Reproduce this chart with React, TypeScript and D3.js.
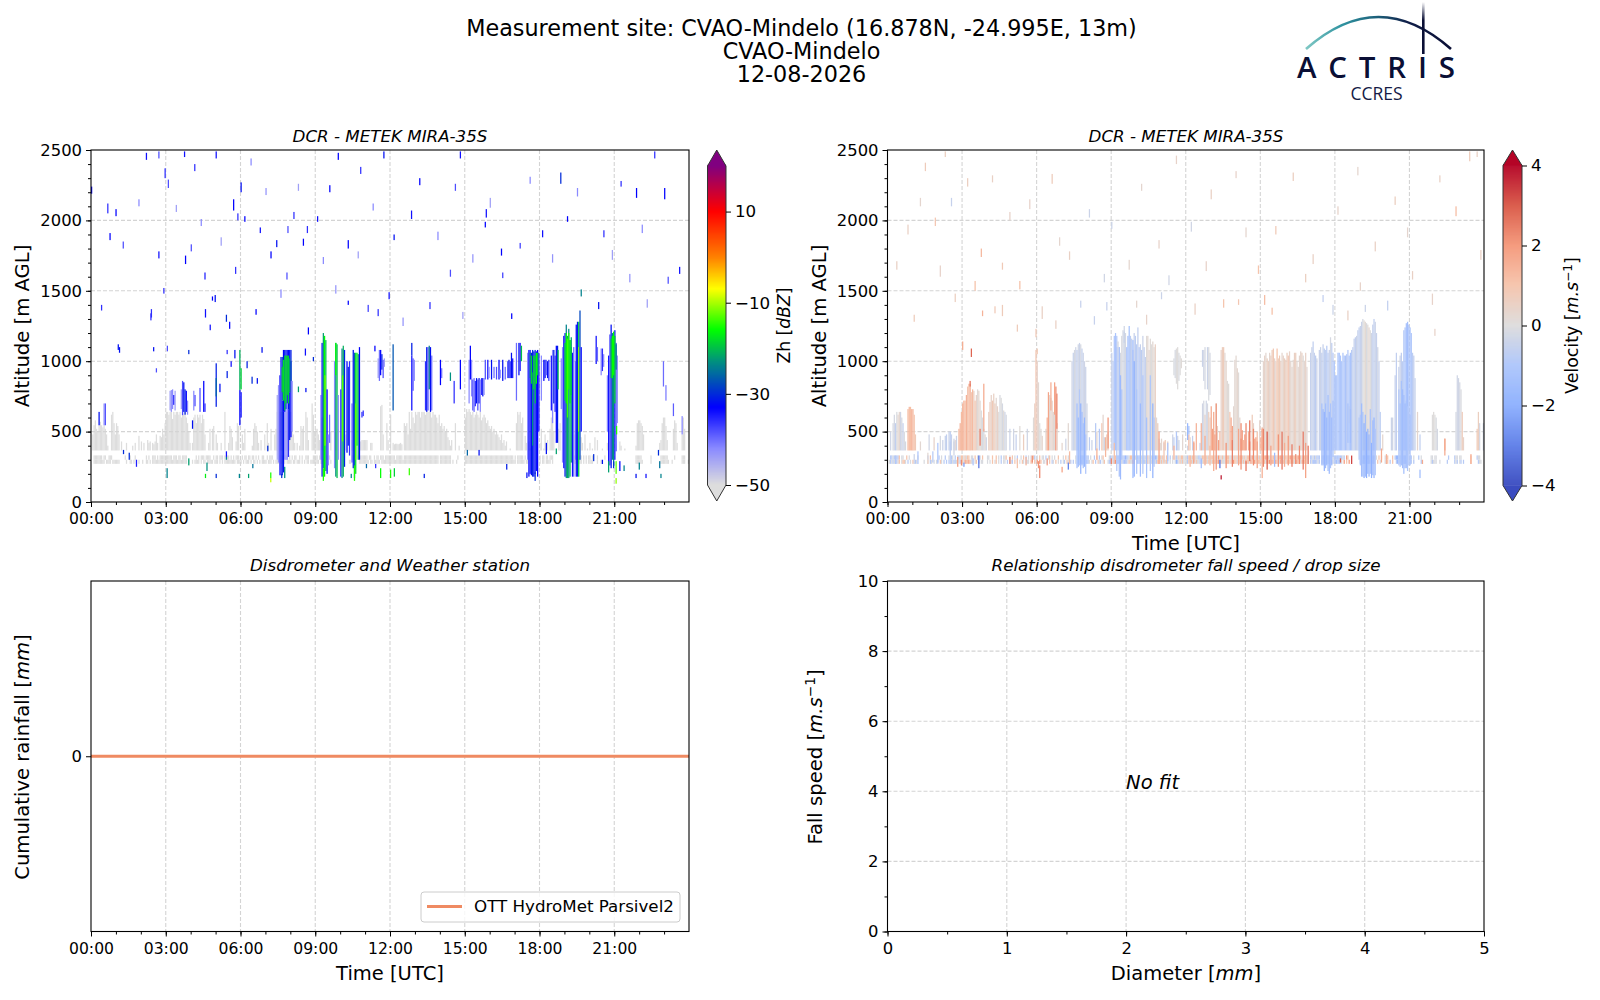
import { useEffect, useRef } from 'react';
import * as d3 from 'd3';

const TITLE_LINES = ['Measurement site: CVAO-Mindelo (16.878N, -24.995E, 13m)', 'CVAO-Mindelo', '12-08-2026'];
const HOUR_TICKS = [0, 3, 6, 9, 12, 15, 18, 21];
const HOUR_MINOR = d3.range(0, 24);
const ALT_TICKS = [0, 500, 1000, 1500, 2000, 2500];
const ALT_MINOR = d3.range(0, 2600, 100);
const ZH_TICKS = [-50, -30, -10, 10];
const VEL_TICKS = [-4, -2, 0, 2, 4];
const DIAM_TICKS = [0, 1, 2, 3, 4, 5];
const DIAM_MINOR = d3.range(0, 5.5, 0.5);
const FALL_TICKS = [0, 2, 4, 6, 8, 10];
const FALL_MINOR = d3.range(0, 11, 1);

const ZH_STOPS = [-50, -42, -33, -23, -16, -7, 0, 10, 15, 20];
const ZH_COLORS = ['#dddddd', '#8a8aff', '#0000ff', '#009080', '#00ff00', '#ffff00', '#ff8000', '#ff0000', '#c00040', '#800080'];
const VEL_STOPS = [-4, -3, -2, -1, 0, 1, 2, 3, 4];
const VEL_COLORS = ['#3b4cc0', '#5f7fe8', '#8db0fe', '#aec6fb', '#dddcdc', '#f5c4ac', '#f4987a', '#d95847', '#b40426'];

// Rain gauge: nothing fell, cumulative stays at zero
const RAIN_HOURS = [0, 6, 12, 18, 24];
const RAIN_VALUES = [0, 0, 0, 0, 0];

// top of the weak echo layer in each 3-minute column (m), one row per hour, 0 = no echo
const ZH_GRAY_TOP: number[][] = [
  [0, 480, 545, 580, 520, 500, 545, 570, 545, 530, 545, 520, 480, 400, 0, 0, 620, 640, 560, 480],
  [560, 540, 480, 0, 430, 0, 0, 0, 420, 0, 0, 0, 0, 400, 0, 420, 0, 0, 470, 0],
  [430, 0, 420, 0, 0, 440, 420, 430, 0, 420, 410, 430, 480, 420, 0, 470, 460, 520, 480, 560],
  [640, 640, 620, 640, 640, 590, 640, 620, 640, 640, 620, 640, 600, 640, 620, 640, 600, 560, 500, 420],
  [0, 420, 600, 620, 560, 620, 600, 620, 560, 620, 590, 480, 0, 0, 420, 520, 0, 520, 540, 0],
  [480, 420, 0, 0, 420, 0, 0, 640, 0, 0, 420, 540, 520, 460, 0, 0, 430, 560, 540, 0],
  [0, 480, 420, 520, 0, 0, 0, 0, 0, 400, 520, 560, 540, 500, 420, 0, 440, 0, 0, 480],
  [0, 560, 420, 0, 520, 0, 0, 480, 520, 640, 640, 640, 640, 640, 640, 640, 640, 640, 640, 640],
  [640, 500, 480, 420, 0, 420, 0, 400, 540, 520, 540, 0, 640, 600, 440, 0, 0, 700, 620, 500],
  [520, 520, 480, 440, 0, 600, 0, 0, 0, 0, 0, 0, 500, 0, 0, 0, 500, 0, 520, 0],
  [0, 0, 0, 0, 480, 0, 0, 0, 0, 440, 0, 0, 0, 0, 0, 0, 430, 440, 440, 440],
  [440, 440, 0, 0, 420, 420, 0, 0, 0, 0, 0, 0, 680, 690, 480, 0, 0, 560, 440, 0],
  [620, 0, 420, 410, 414, 414, 410, 414, 420, 410, 0, 560, 540, 560, 480, 640, 520, 640, 600, 560],
  [640, 620, 640, 640, 600, 640, 640, 640, 620, 640, 640, 640, 640, 600, 640, 620, 620, 600, 560, 620],
  [540, 560, 520, 540, 500, 520, 460, 440, 400, 440, 0, 0, 560, 0, 0, 400, 0, 0, 0, 0],
  [600, 660, 640, 660, 640, 620, 640, 600, 620, 640, 620, 600, 640, 580, 600, 620, 600, 560, 580, 540],
  [520, 540, 500, 520, 480, 500, 480, 460, 440, 480, 420, 440, 400, 430, 0, 0, 380, 0, 0, 0],
  [0, 560, 640, 620, 640, 560, 600, 0, 470, 420, 0, 430, 380, 0, 0, 0, 0, 0, 0, 0],
  [420, 520, 0, 380, 480, 0, 440, 0, 520, 600, 640, 500, 0, 0, 0, 520, 560, 0, 0, 0],
  [0, 0, 0, 0, 0, 0, 0, 0, 480, 520, 440, 0, 0, 460, 420, 0, 480, 0, 380, 0],
  [420, 0, 380, 0, 460, 0, 440, 0, 0, 0, 380, 0, 0, 0, 420, 520, 0, 0, 0, 0],
  [0, 0, 0, 0, 430, 400, 0, 0, 380, 0, 0, 0, 0, 0, 0, 0, 0, 400, 560, 580],
  [580, 560, 540, 480, 360, 0, 0, 0, 0, 0, 0, 0, 0, 0, 0, 0, 420, 440, 560, 600],
  [600, 540, 440, 0, 0, 0, 0, 520, 580, 560, 420, 0, 0, 0, 480, 600, 520, 0, 0, 0],
];

// the two lowest gates (300-331 m and 271-300 m), one string per hour, # = echo
const ZH_BAND_UPPER = [
  '..#######.##..###...', '.......#...#...#....', '....#.#..###.#.#####', '#####.###.##.####...', '....#.#.###.####..#.', '##.###.#.##.#.#.###.',
  '.#.##.##.##.#.#..##.', '.#.###.....#.#.###.#', '.#.##..#.#..###...##', '##.#.....#.#........', '.........##...#.####', '##.##..#.##.###.####',
  '####.#####.#########', '###################.', '#########.....#.....', '####################', '###################.', '#.#####.#...........',
  '#.##.##.###.........', '......#.###.##.#.#.#', '#.#...#.....#.......', '.................###', '##.......#.......###', '###.....#.....###...',
];
const ZH_BAND_LOWER = [
  '..#########.####.###', '###.....#..##.#.#.#.', '.#..##.#.###########', '#################.#.', '.#.####.#.##.#####.#', '##.#.#.#########.###',
  '#.#.###.#.##.#.#.###', '#.###.#.###.##.#.###', '#.##.###.#.#.##.####', '###.###.....#.......', '.......##..#...#####', '###.##.#####.#######',
  '####################', '###################.', '#########.#..#......', '####################', '####################', '#.######.##.........',
  '#.##.####.#.........', '......#####.##.#.#.#', '###...#..#.......#..', '.................###', '###......#.......###', '####..#.......###..#',
];

// shafts and cloud columns, [hour, altBottom, altTop, dBZ]
const ZH_SHAFTS: number[][] = [
  [0.3, 545, 640, -32], [0.5, 545, 700, -43], [0.55, 545, 700, -38], [3.15, 650, 790, -44], [3.2, 640, 795, -43], [3.25, 660, 800, -42], [3.3, 690, 760, -34], [3.35, 650, 790, -44],
  [3.6, 660, 800, -44], [3.65, 617, 860, -38], [3.7, 640, 850, -32], [3.75, 620, 800, -31], [3.8, 640, 790, -33], [3.85, 620, 720, -42], [4.05, 520, 580, -32], [4.1, 650, 790, -42],
  [4.15, 680, 760, -38], [4.35, 640, 810, -38], [4.5, 640, 860, -33], [4.55, 640, 700, -36], [5.0, 676, 985, -31], [5.0, 750, 880, -26], [5.15, 780, 840, -32], [5.75, 1020, 1080, -32],
  [5.95, 545, 795, -33], [6.0, 600, 780, -34], [5.95, 795, 1080, -21], [6.0, 800, 950, -19],
  [7.45, 300, 760, -45], [7.5, 280, 830, -43], [7.55, 190, 900, -38], [7.6, 190, 1030, -34], [7.65, 190, 720, -31], [7.7, 210, 640, -32], [7.75, 300, 640, -42], [7.8, 300, 660, -43],
  [7.85, 300, 700, -42], [7.9, 320, 660, -36], [7.95, 440, 780, -31], [8.0, 460, 860, -33], [8.05, 500, 860, -43],
  [7.65, 720, 1030, -28], [7.7, 640, 1080, -33], [7.75, 640, 1080, -32], [7.8, 660, 1080, -31], [7.85, 700, 1080, -33], [7.9, 660, 1080, -32], [7.95, 780, 1080, -33], [8.0, 860, 1080, -31],
  [7.65, 780, 960, -19], [7.7, 720, 1010, -18], [7.75, 650, 1040, -20], [7.8, 700, 1040, -17], [7.85, 760, 1040, -18], [7.9, 700, 1040, -19], [7.95, 780, 1020, -22], [8.0, 860, 1000, -28],
  [9.2, 300, 760, -42], [9.25, 180, 1130, -33], [9.3, 240, 1200, -22], [9.35, 180, 1180, -16], [9.4, 220, 1150, -20], [9.45, 200, 800, -33], [9.3, 150, 240, -15], [9.37, 400, 900, -12], [9.5, 260, 480, -42],
  [9.55, 420, 620, -40], [9.75, 240, 1000, -42], [9.8, 180, 1130, -23], [9.85, 170, 1120, -20], [9.8, 900, 1130, -16], [9.9, 300, 760, -42], [10.0, 180, 800, -36], [10.05, 170, 1090, -24], [10.1, 180, 1110, -21],
  [10.15, 250, 1080, -31], [10.07, 430, 900, -13], [10.25, 350, 1000, -33], [10.3, 400, 960, -31], [10.35, 330, 1000, -36], [10.45, 280, 700, -40], [10.5, 240, 1080, -32], [10.55, 170, 1060, -26], [10.6, 200, 1060, -18], [10.65, 400, 1060, -17], [10.7, 300, 1050, -22], [10.75, 300, 1100, -33],
  [10.6, 300, 700, -13], [10.55, 150, 260, -15], [10.85, 600, 640, -36], [11.5, 880, 1020, -44], [11.55, 860, 1080, -40], [11.6, 900, 1080, -33], [11.65, 940, 1050, -31], [11.7, 880, 1010, -38], [11.75, 960, 1020, -44],
  [12.1, 650, 1120, -27], [12.85, 650, 1040, -34], [12.85, 1040, 1130, -31], [12.9, 790, 1020, -38], [12.95, 860, 1010, -42], [13.4, 650, 1000, -36], [13.45, 640, 1100, -32], [13.5, 650, 1100, -38], [13.55, 800, 1110, -24], [13.6, 640, 1100, -32], [13.65, 650, 1040, -40],
  [14.0, 830, 1010, -33], [14.05, 880, 950, -40], [14.4, 860, 920, -23], [14.55, 700, 860, -36], [14.8, 800, 1010, -33],
  [15.15, 700, 1010, -42], [15.2, 870, 1110, -33], [15.25, 750, 1010, -42], [15.3, 650, 870, -38], [15.35, 640, 880, -40], [15.4, 680, 860, -36], [15.45, 700, 880, -32], [15.5, 650, 870, -38], [15.55, 700, 880, -32], [15.6, 640, 870, -42], [15.65, 760, 880, -36], [15.7, 750, 880, -32], [15.75, 760, 880, -42],
  [15.8, 870, 1010, -38], [15.9, 870, 1010, -34], [15.95, 880, 960, -42], [16.05, 870, 1010, -32], [16.15, 880, 960, -40], [16.25, 870, 960, -38], [16.35, 870, 1010, -33], [16.4, 880, 940, -42], [16.5, 860, 1010, -32], [16.6, 870, 960, -40], [16.7, 880, 1000, -38], [16.75, 880, 1010, -32], [16.8, 880, 1000, -36], [16.85, 880, 1060, -32], [16.9, 880, 1020, -34],
  [17.05, 720, 1130, -40], [17.15, 900, 1130, -32], [17.2, 930, 1130, -35], [17.25, 1000, 1110, -20],
  [17.5, 300, 1060, -42], [17.55, 180, 1080, -33], [17.6, 200, 1080, -34], [17.65, 190, 1060, -32], [17.7, 180, 1080, -30], [17.75, 180, 1070, -33], [17.8, 200, 1080, -31], [17.85, 220, 1070, -34], [17.9, 180, 1080, -33], [17.95, 500, 1060, -34],
  [17.6, 880, 1060, -24], [17.65, 840, 1040, -19], [17.7, 400, 920, -23], [17.75, 800, 1040, -17], [17.8, 700, 1040, -20], [17.85, 840, 1060, -16], [17.9, 900, 1060, -20],
  [18.05, 720, 1040, -42], [18.15, 860, 1010, -33], [18.2, 880, 1010, -32], [18.25, 900, 1010, -40], [18.3, 880, 1000, -32], [18.35, 860, 1010, -36],
  [18.45, 650, 1040, -34], [18.5, 560, 1080, -42], [18.55, 700, 1080, -31], [18.6, 640, 1040, -36], [18.65, 420, 1110, -33], [18.7, 420, 1110, -31], [18.72, 800, 1080, -20], [18.85, 660, 1020, -42],
  [18.9, 280, 1100, -42], [18.95, 240, 1180, -34], [19.0, 180, 1200, -32], [19.05, 170, 1260, -24], [19.1, 170, 1180, -21], [19.15, 170, 1230, -23], [19.2, 180, 1150, -20], [19.25, 280, 1170, -22], [19.3, 180, 1060, -34], [19.35, 180, 1100, -40],
  [19.0, 720, 1130, -18], [19.05, 700, 1200, -16], [19.1, 600, 1160, -14], [19.15, 800, 1200, -15], [19.2, 700, 1150, -17], [19.25, 760, 1100, -20],
  [19.42, 300, 1000, -43], [19.45, 180, 1260, -33], [19.5, 180, 1280, -31], [19.55, 180, 1280, -19], [19.55, 500, 1100, -11], [19.6, 300, 1360, -28], [19.65, 500, 1100, -34],
  [20.25, 980, 1180, -34], [20.3, 1000, 1100, -40], [20.45, 900, 1090, -42], [20.5, 930, 1090, -36], [20.55, 960, 1050, -42], [20.7, 500, 900, -42],
  [20.75, 260, 1040, -34], [20.8, 260, 1190, -38], [20.85, 240, 1260, -32], [20.9, 300, 1200, -24], [20.95, 260, 1180, -23], [21.0, 300, 1220, -34], [21.05, 360, 1130, -38], [21.1, 560, 1040, -43],
  [20.85, 880, 1160, -20], [20.9, 880, 1180, -16], [20.95, 900, 1210, -16], [21.0, 700, 1180, -18], [21.05, 940, 1120, -24], [22.95, 820, 1000, -40], [23.05, 720, 830, -41], [23.35, 610, 700, -39], [23.7, 480, 610, -42],
];

// isolated returns, [hour, altBottom, altTop, dBZ]
const ZH_SPECKS: number[][] = [
  [1.12, 1060, 1100, -32], [2.49, 1070, 1100, -32], [2.4, 1310, 1370, -36], [0.4, 1360, 1400, -36], [4.57, 1310, 1370, -34], [5.41, 1280, 1330, -30],
  [4.85, 1430, 1460, -33], [3.9, 1050, 1080, -30], [3.04, 1070, 1110, -38], [5.44, 1050, 1080, -36], [6.84, 1060, 1100, -32],
  [6.24, 950, 1000, -31], [5.6, 960, 1000, -34], [2.6, 920, 950, -38], [5.44, 880, 930, -31], [6.44, 840, 890, -30], [6.65, 840, 880, -32],
  [8.3, 780, 820, -22], [8.6, 780, 810, -32], [8.7, 1190, 1240, -33], [8.58, 1040, 1090, -34], [8.9, 1000, 1030, -30], [11.5, 1320, 1370, -36],
  [10.3, 1400, 1430, -33], [11.37, 1070, 1110, -33], [10.9, 610, 650, -36], [1.28, 340, 370, -30], [1.51, 300, 350, -30], [1.8, 250, 300, -35],
  [3.03, 170, 240, -24], [3.9, 260, 310, -22], [4.63, 220, 280, -23], [4.57, 170, 200, -17], [5.0, 170, 200, -30], [5.41, 320, 360, -34],
  [5.41, 300, 320, -24], [5.93, 170, 200, -24], [6.3, 170, 200, -22], [7.19, 140, 170, -9], [7.19, 170, 210, -15], [7.07, 360, 400, -30],
  [6.47, 240, 270, -25], [7.75, 170, 250, -23], [7.63, 170, 200, -30], [11.03, 240, 270, -26], [10.42, 170, 200, -24], [11.6, 170, 240, -16],
  [11.4, 240, 270, -36], [12.0, 170, 230, -15], [12.15, 180, 240, -19], [12.75, 190, 240, -14], [13.35, 170, 200, -31], [15.08, 330, 370, -26],
  [15.55, 330, 370, -32], [16.66, 230, 270, -31], [17.47, 170, 210, -32], [17.8, 150, 210, -30], [18.25, 340, 420, -32], [18.65, 340, 380, -22],
  [20.15, 290, 340, -30], [20.5, 270, 300, -32], [20.75, 210, 290, -22], [20.95, 240, 290, -29], [21.05, 200, 290, -13], [21.2, 220, 290, -33],
  [21.37, 220, 260, -24], [21.05, 130, 170, -11], [21.07, 480, 540, -15], [21.85, 170, 200, -32], [22.25, 170, 200, -34], [22.85, 170, 200, -24],
  [21.98, 230, 280, -24], [22.8, 240, 290, -25], [22.75, 330, 370, -30], [2.2, 2430, 2480, -34], [2.7, 2440, 2490, -38], [2.95, 2300, 2370, -36],
  [3.08, 2230, 2290, -38], [3.73, 2450, 2490, -34], [0, 2190, 2240, -33], [0.65, 2050, 2120, -36], [0.98, 2030, 2080, -33], [1.27, 1800, 1850, -38],
  [0.74, 1860, 1910, -33], [4.14, 2350, 2400, -36], [5.0, 2440, 2490, -34], [5.7, 2070, 2150, -33], [6.0, 2200, 2270, -32], [5.87, 2000, 2050, -36],
  [6.15, 1990, 2030, -33], [7.43, 1810, 1860, -32], [6.77, 1910, 1950, -34], [7.88, 1910, 1960, -38], [8.12, 2010, 2060, -36], [8.5, 1820, 1870, -33],
  [8.66, 1910, 1960, -36], [3.77, 1690, 1750, -33], [2.7, 1730, 1780, -34], [4.0, 1780, 1830, -38], [2.38, 1290, 1340, -36], [4.96, 1420, 1470, -32],
  [4.55, 1580, 1630, -35], [5.54, 1230, 1280, -33], [4.76, 1220, 1260, -34], [1.07, 1080, 1120, -32], [9.9, 2430, 2480, -33], [9.56, 2200, 2250, -33],
  [10.8, 2330, 2380, -36], [11.73, 2440, 2490, -32], [12.84, 2010, 2070, -34], [13.17, 2250, 2300, -33], [14.8, 2440, 2490, -34], [14.6, 2210, 2260, -38],
  [15.84, 2020, 2080, -34], [15.8, 1950, 1990, -33], [16.45, 1750, 1800, -33], [17.2, 1800, 1840, -37], [18.83, 2260, 2340, -30], [21.25, 2240, 2280, -36],
  [21.87, 2160, 2230, -33], [22.6, 2440, 2490, -36], [23.0, 2150, 2230, -33], [23.6, 1620, 1670, -34], [23.14, 1550, 1600, -38], [20.56, 1880, 1930, -36],
  [19.1, 1990, 2030, -33], [18.1, 1880, 1930, -34], [20.35, 1370, 1420, -32], [19.65, 1460, 1510, -24], [14.4, 1600, 1650, -38], [12.14, 1860, 1900, -32],
  [10.3, 1800, 1860, -33], [9.07, 1990, 2030, -34], [7.2, 1730, 1780, -33], [2.9, 1480, 1520, -36], [16.5, 1590, 1630, -37], [16.86, 1300, 1340, -33],
  [13.58, 1370, 1420, -36], [11.94, 1440, 1490, -34], [11.1, 1350, 1400, -37], [6.6, 1330, 1370, -33], [7.84, 1580, 1630, -38], [5.78, 1620, 1670, -36],
  [1.9, 2100, 2150, -42], [3.4, 2060, 2110, -44], [4.4, 1960, 2010, -42], [5.2, 1820, 1880, -44], [6.4, 2390, 2440, -42], [7.0, 2180, 2230, -43], [7.6, 1450, 1510, -42], [8.3, 2210, 2260, -44],
  [9.3, 1690, 1740, -42], [9.8, 1480, 1540, -43], [10.7, 1730, 1780, -44], [11.3, 2070, 2120, -42], [12.5, 1250, 1310, -43], [13.9, 1860, 1920, -42], [14.9, 1300, 1350, -44], [15.3, 1700, 1760, -43],
  [16.0, 2090, 2160, -44], [17.6, 2260, 2310, -42], [18.5, 1700, 1760, -43], [19.5, 2170, 2230, -42], [20.9, 1720, 1790, -44], [21.6, 1560, 1620, -43], [22.1, 1910, 1970, -42], [22.3, 1380, 1440, -44],
];

// velocity: top of each 3-minute column (m) and its value aloft (m/s), one row per hour
const VEL_TOP: number[][] = [
  [0, 0, 500, 0, 560, 620, 560, 640, 620, 640, 640, 600, 560, 500, 430, 0, 660, 676, 676, 660],
  [660, 620, 480, 0, 0, 0, 430, 0, 0, 0, 0, 0, 0, 480, 0, 0, 0, 460, 0, 0],
  [0, 0, 470, 0, 440, 0, 470, 480, 0, 500, 500, 480, 0, 430, 440, 470, 0, 520, 560, 640],
  [700, 720, 720, 760, 820, 840, 840, 780, 800, 790, 720, 760, 800, 790, 720, 650, 600, 520, 480, 460],
  [0, 640, 710, 760, 720, 770, 700, 740, 680, 640, 760, 740, 700, 650, 640, 620, 0, 0, 520, 0],
  [0, 520, 0, 480, 0, 0, 540, 0, 0, 480, 0, 0, 520, 0, 0, 0, 0, 600, 700, 1080],
  [1000, 850, 560, 520, 470, 0, 0, 520, 600, 780, 760, 740, 720, 640, 760, 820, 560, 0, 0, 0],
  [420, 0, 0, 450, 0, 560, 0, 0, 1000, 1060, 1080, 1100, 1080, 1120, 1130, 1120, 1090, 1060, 1000, 960],
  [700, 0, 460, 0, 440, 0, 0, 560, 500, 0, 520, 0, 560, 620, 460, 0, 480, 500, 0, 0],
  [1060, 1000, 1180, 1200, 1180, 1140, 1100, 1060, 1180, 1220, 1250, 1200, 1100, 1180, 1250, 1180, 1160, 1080, 1200, 1180],
  [1120, 1240, 1100, 1120, 1080, 1180, 1100, 1030, 1180, 1180, 1080, 1160, 1120, 1140, 1100, 1120, 600, 560, 450, 420],
  [450, 0, 420, 440, 0, 430, 0, 0, 0, 480, 460, 0, 500, 470, 440, 0, 0, 480, 0, 0],
  [0, 400, 480, 460, 0, 470, 420, 0, 560, 0, 0, 420, 560, 700, 720, 620, 720, 700, 640, 600],
  [680, 520, 500, 480, 700, 540, 440, 500, 1080, 1100, 1100, 1060, 1000, 860, 840, 640, 600, 540, 680, 1010],
  [1040, 950, 920, 600, 560, 510, 440, 480, 560, 0, 500, 430, 0, 620, 560, 450, 460, 500, 0, 580],
  [460, 520, 1000, 1040, 1060, 1020, 1000, 1060, 1040, 1080, 1090, 1020, 1000, 1090, 1020, 1040, 1000, 1060, 1040, 1020],
  [1010, 1060, 1040, 1070, 1000, 960, 1010, 1060, 1060, 1000, 960, 1040, 1070, 1060, 1040, 1000, 1060, 960, 0, 0],
  [1060, 1100, 1140, 1060, 1040, 1020, 0, 1080, 1100, 1060, 1120, 1090, 1080, 1110, 1060, 1080, 1170, 1130, 1060, 1000],
  [900, 900, 1060, 1060, 1040, 1000, 1060, 1040, 1040, 1050, 1080, 1040, 1060, 1080, 1100, 1160, 1170, 1180, 1220, 1240],
  [1250, 1280, 1300, 1290, 1280, 1270, 1260, 1240, 1220, 1200, 1260, 1300, 1280, 1200, 1100, 1000, 640, 0, 480, 0],
  [0, 0, 0, 0, 0, 600, 600, 0, 900, 1060, 0, 960, 1040, 1060, 1000, 1220, 1240, 1270, 1280, 1260],
  [1240, 1200, 1060, 1040, 880, 0, 640, 0, 480, 0, 0, 0, 0, 0, 0, 0, 360, 0, 620, 640],
  [620, 600, 520, 0, 0, 0, 0, 0, 450, 0, 0, 0, 0, 0, 0, 0, 0, 640, 900, 880],
  [850, 800, 640, 460, 0, 0, 0, 0, 0, 0, 0, 0, 0, 0, 520, 640, 560, 0, 0, 560],
];
const VEL_VALUE: number[][] = [
  [0, 0, -0.3, 0, -0.2, -0.2, -0.6, -0.1, 0.2, 0.3, -0.3, -0.2, -0.5, -0.1, -0.2, 0, 1.2, 1.3, 1.1, 1.4],
  [1.3, 1, 0.8, 0, 0, 0, 0.2, 0, 0, 0, 0, 0, 0, -0.3, 0, 0, 0, 0.4, 0, 0],
  [0, 0, -0.2, 0, -0.4, 0, -0.5, -0.6, 0, -0.4, -0.7, -0.5, 0, -0.3, 0.3, -0.4, 0, 1.3, 1.4, 1.2],
  [1.3, 1.5, 1, 1.4, 0.9, 1.1, 1.5, 0.8, 1.2, 0.6, 1, 0.4, 0.1, 0.3, 0.2, 0, -0.1, -0.2, 0.3, -0.3],
  [0, 0.5, 0.6, 0.4, 0.8, 0.5, 0.7, 0.2, 0.4, 0.1, -0.1, 0, -0.2, 0.1, -0.3, -0.2, 0, 0, -0.4, 0],
  [0, -0.3, 0, -0.5, 0, 0, 0.1, 0, 0, 0.6, 0, 0, -0.3, 0, 0, 0, 0, 0.1, 0.5, 0.9],
  [0.4, 0.2, 0, 0.1, 0.3, 0, 0, 0.2, 1.4, 1.7, 0.3, 0.2, 0.4, 0.2, 0.1, 2.2, 0.5, 0, 0, 0],
  [0.3, 0, 0, -0.3, 0, 0.2, 0, 0, -0.3, -0.5, -0.2, -0.3, -0.6, -0.3, -0.4, -0.2, -0.5, -0.4, -0.3, -0.4],
  [-0.3, 0, -0.7, 0, -0.4, 0, 0, -0.8, 0.3, 0, -0.9, 0, 0.9, 0.3, -0.3, 0, 0.7, 0.4, 0, 0],
  [-0.5, -0.6, -1, -1.1, -0.9, -0.2, -0.3, -0.2, -0.1, -0.2, -0.3, -0.2, -1.1, -1.3, -1.2, -0.7, -0.6, -0.8, -0.5, -0.7],
  [-0.8, -0.6, -0.9, -0.5, -0.7, -0.4, -0.6, -0.5, 0.1, 0.2, 0.3, 0.1, 0, 0.2, 0.1, 0.5, 0.2, 0.6, -0.2, 0.3],
  [0.3, 0, -0.3, 0.8, 0, 0.4, 0, 0, 0, -0.3, -0.6, 0, -0.9, -0.3, -0.4, 0, 0, 0.2, 0, 0],
  [0, -0.3, 1.2, 0.3, 0, -0.5, 1.3, 0, 1.4, 0, 0, -0.5, 1.5, -0.3, -0.2, 0.5, -0.3, -0.2, 0.6, 0.5],
  [1.6, 1.8, 0.8, 2, 0.1, 0.5, 1.9, 1.2, 0.4, 0.6, 0.7, 0.2, 0.3, 0.1, 0.1, 0.9, 1.6, 1.8, 0.2, 0.2],
  [0.2, 0.3, 0.1, 0.3, 2.2, 1.8, 1.3, 1.7, 2.3, 0, 1.4, 1.9, 0, 0.7, 0.4, 1.6, 1.9, 1.1, 0, 0.3],
  [1.5, 1.9, 0.3, 0.4, 0.2, 0.6, 0.5, 0.3, 0.4, 0.7, 0.8, 0.4, 0.3, 1, 0.6, 0.8, 0.5, 0.3, 0.4, 0.6],
  [0.5, 0.6, 0.9, 0.4, 0.3, 0.2, 0.3, 0.5, 0.6, 0.2, 0.2, 0.3, 0.3, 0.5, 0.1, 0.2, 0.4, 0.2, 0, 0],
  [-0.5, -0.4, -0.6, -0.5, -0.7, -0.4, 0, -0.5, -0.4, -0.6, -0.5, -0.7, -0.6, -0.8, -0.7, -0.5, -0.2, -0.6, -0.8, -1],
  [-0.9, -1, -1, -1.2, -1, -1.1, -1, -0.9, -1.1, -0.8, -0.9, -1, -1.1, -0.8, -0.6, -0.5, -0.6, -0.4, -0.5, -0.6],
  [-0.5, -0.4, -0.2, 0.1, 0.2, -0.1, 0.1, 0.3, 0, -0.3, -0.5, -0.6, -0.4, -0.5, -0.3, -0.5, -0.7, 0, 0.3, 0],
  [0, 0, 0, 0, 0, -0.4, -0.3, 0, -0.5, -0.6, 0, -0.5, -0.4, -0.6, -0.7, -0.9, -1, -1.2, -1.3, -1.1],
  [-1.2, -1, -0.7, -0.6, -0.5, 0, 0.3, 0, -0.6, 0, 0, 0, 0, 0, 0, 0, 0.3, 0, 0, 0.05],
  [0, -0.1, -0.2, 0, 0, 0, 0, 0, 1.6, 0, 0, 0, 0, 0, 0, 0, 0, -0.2, -0.3, -0.3],
  [-0.2, -0.1, 0.7, 0.4, 0, 0, 0, 0, 0, 0, 0, 0, 0, 0, 0.8, 0.6, -0.2, 0, 0, -0.3],
];

// the two lowest gates by sign: b blue, u deep blue, g grey, o orange, r red, . none
const VEL_BAND_UPPER = [
  '..bbgbgbbo.gg..o.g..', '....g.......b.o.....', '.b.g..b..g.bg.b.gbgo', 'ogogoo.gg.o.gbg.o...', 'gg..o..o.g.b.ggo..g.', 'o.g.b..g.o.b.g.g.ob.',
  'g.o.gg.b.go.g.g..o..', '.g.o.g.....g.g.bbubb', 'bb.g..b.o.b.go....gb', 'gb.obubbgbbubbgoogog', 'bubbgbbgoogogbbubgoo', 'gog.og.b.g.gbgogoogg',
  'gboogogoggbbgoogogog', 'ooogogrogoggoooggogo', 'ogoorogogooogrogoogo', 'gogorooggoorogoorogg', 'oogorooogoroogoorog.', 'bbgbgbbb.gbbubbbb.gb',
  'bbubbbgb.ro.........', 'bbbubbubbbbb.g.o.o..', 'g.o...o.buubbbbbu...', 'bb.g...b.g.......gg', 'gg.........b....bgg', 'gg.......o....bgg...',
];
const VEL_BAND_LOWER = [
  '.gbgbgbbgo.goog.b.g.', 'o.bg.....g..o.bg.g.g', 'b.og.b.b.b.bgbbg.gbo', 'ogroorogg.go.b.gg...', 'g.g.o.go.g.b.gg.b.gg', 'b.o.b.g.og.bgg.oo.og',
  'r.ro.gg.b.o.bg.o.g.b', '.gb.og.b.b.g.b.bubub', 'ubg.go.b.ogb.go..gbb', 'ogurbubbgbubbgoggro', 'bubbgbugoogogbbgboog', 'ogogob.g.g.gubgogogg',
  'gbogogrgoggbbgogogog', 'gorogorgogggooogogro', 'ogrorgogroogrogrogoo', 'ogrogoorgrooroggrgo.', 'goroorogoroogorogog.', 'bgubbbgb.bgbubbbbbgb',
  'bububg.r.o.r........', 'ububbubbubub..o.g...', 'g.o.b.o..bubbbbbub...', 'bb.b.....b.......gbg', 'gg..g.....b.....bgb', 'gb.b.....o.....bgg..',
];
const VEL_BAND_VALUE: Record<string, number> = { b: -0.8, u: -1.6, g: -0.1, o: 1.0, r: 2.0 };

// floating layers and deep shafts, [hour, altBottom, altTop, m/s]
const VEL_SHAFTS: number[][] = [
  [7.6, 240, 700, -1.2], [7.65, 250, 600, -1.6], [7.7, 260, 800, -0.9], [7.75, 200, 700, -1.8], [7.8, 260, 640, -1.4], [7.85, 240, 560, -1.2], [7.9, 250, 600, -1.7], [7.95, 200, 480, -1],
  [9.2, 220, 1100, -0.9], [9.3, 180, 1100, -1.2], [9.35, 160, 900, -1.5], [9.4, 300, 800, -1.0], [9.85, 170, 1150, -1.3], [9.9, 180, 1000, -2], [10.0, 200, 800, -1.0], [10.15, 180, 700, -1.5],
  [10.25, 200, 900, -0.9], [10.4, 170, 600, -1.2], [10.55, 220, 900, -1], [10.65, 170, 700, -1.8], [10.7, 250, 600, -0.9],
  [11.5, 900, 1020, -0.1], [11.55, 880, 1080, -0.2], [11.6, 840, 1090, 0], [11.65, 800, 1100, 0.05], [11.7, 860, 1060, -0.1], [11.75, 900, 1040, 0], [11.8, 950, 1020, 0.1],
  [12.65, 960, 1080, -0.4], [12.7, 860, 1080, -0.3], [12.75, 800, 1100, -0.2], [12.85, 800, 1100, -0.4], [12.9, 720, 1100, -0.1], [12.95, 760, 1060, -0.2],
  [17.45, 260, 700, -1.2], [17.5, 260, 660, -1.4], [17.55, 220, 640, -1.8], [17.6, 240, 700, -1.3], [17.65, 260, 600, -1.7], [17.7, 220, 760, -1.2], [17.75, 200, 640, -1.5], [17.8, 240, 700, -1.1], [17.85, 260, 600, -1.5], [17.9, 320, 720, -1.1],
  [18.5, 420, 700, -1.1], [18.55, 560, 680, -0.8], [18.6, 420, 660, -1.3], [18.95, 300, 600, -0.9], [19.0, 260, 620, -1], [19.05, 180, 700, -1.4], [19.1, 180, 640, -1.2], [19.15, 170, 560, -1.9], [19.2, 180, 620, -1.4],
  [19.25, 170, 500, -2], [19.3, 200, 520, -1.6], [19.35, 180, 480, -1.8], [19.4, 200, 660, -1.1], [19.45, 170, 420, -1.9], [19.5, 190, 580, -1.3], [19.55, 170, 600, -1.7], [19.6, 190, 520, -1],
  [20.55, 260, 800, -0.9], [20.6, 250, 700, -1.1], [20.65, 260, 860, -1.2], [20.7, 240, 800, -1.4], [20.75, 200, 760, -1.3], [20.8, 240, 700, -1.5], [20.85, 240, 720, -1.2], [20.9, 220, 680, -1], [20.95, 260, 640, -0.9], [21.0, 260, 620, -1.1],
  [12.05, 440, 560, -1.6], [12.1, 480, 540, -1.2],
];

const VEL_SPECKS: number[][] = [
  [0.3, 270, 330, -0.9], [1.05, 270, 340, -0.4], [1.2, 270, 360, -1], [1.6, 270, 350, 0.2], [1.8, 280, 360, -0.8], [2.0, 280, 420, -1], [2.5, 270, 430, -0.7], [2.65, 330, 450, -0.3], [2.8, 250, 320, 1.8],
  [2.95, 260, 300, 2.2], [3.05, 250, 280, -2.4], [3.42, 260, 310, -1], [3.65, 240, 330, -3.2], [3.7, 400, 520, 2.5], [3.85, 500, 840, 1.6], [3.3, 820, 860, 2.6], [4.9, 270, 320, 2.3], [5.2, 240, 310, 1], [5.55, 260, 320, 1.4], [5.8, 280, 330, 2.2],
  [6.05, 240, 290, 2.1], [6.1, 170, 260, 2.3], [6.0, 1050, 1090, 0.8], [6.4, 260, 310, 1.9], [6.7, 620, 850, 1.7], [6.79, 520, 770, 2.3], [6.55, 650, 850, 1.5],
  [7.0, 210, 250, 1.8], [7.25, 230, 280, -3], [7.3, 270, 360, 1.2], [8.4, 300, 380, 1.4], [8.75, 320, 460, 1.3], [8.85, 380, 600, 2.1], [8.98, 270, 310, 2.3], [9.1, 270, 420, 1.1], [10.9, 270, 500, 1.8], [11.1, 280, 430, 0.9], [11.25, 290, 420, -1], [11.5, 300, 400, 1.4],
  [12.15, 250, 330, 1.3], [12.3, 280, 430, 1.7], [12.6, 240, 310, -1.3], [12.75, 260, 470, 1.6], [12.95, 260, 400, 1.2], [13.1, 220, 640, 1.6], [13.2, 230, 700, 2.1], [13.35, 240, 300, -3.3], [13.4, 160, 190, 3.8], [13.6, 240, 420, 2.1], [13.85, 250, 440, 2.4],
  [14.1, 260, 520, 1.7], [14.2, 230, 450, 2.1], [14.4, 220, 290, 2.6], [14.55, 290, 580, 2.6], [14.7, 260, 520, 2.2], [14.85, 240, 430, 1.8], [15.05, 170, 530, 1.5], [15.1, 250, 520, 2.3], [15.25, 230, 500, 3], [15.4, 260, 400, 1.8], [15.55, 250, 350, -1.4], [15.7, 250, 480, 2.1], [15.85, 230, 500, 2.6], [15.95, 250, 420, 1.5],
  [16.1, 260, 470, 1.9], [16.25, 250, 410, 2.5], [16.4, 270, 340, 2.2], [16.55, 270, 400, 2.2], [16.7, 230, 500, 2.5], [16.8, 170, 420, 1.8], [16.9, 270, 400, 2.6],
  [18.2, 280, 310, 2.8], [18.65, 270, 330, 3.3], [19.85, 280, 380, 1.6], [20.05, 270, 340, 1.4], [21.4, 170, 230, -1.4], [21.5, 270, 300, 1.6], [22.4, 330, 450, 1.6], [23.45, 270, 340, 1.5],
  [1.05, 1280, 1330, 0.7], [2.7, 1420, 1480, 0.6], [3.0, 1080, 1140, 1.6], [3.35, 1030, 1090, 2.8], [3.8, 1320, 1360, 1.4], [4.3, 1340, 1390, 0.8], [4.6, 1320, 1400, 0.7],
  [5.2, 1210, 1260, 0.7], [5.95, 1170, 1230, 0.8], [6.2, 1300, 1390, 0.5], [6.75, 1230, 1290, 0.5], [7.75, 1380, 1430, -0.5], [8.3, 1260, 1320, -0.5], [8.8, 1360, 1420, -0.5],
  [9.5, 1130, 1210, -0.4], [10.0, 1380, 1430, 0.3], [10.4, 1260, 1330, 0.4], [11.0, 1440, 1490, -0.4], [12.35, 1330, 1410, 0.5], [13.5, 1380, 1440, 1], [14.1, 1400, 1440, 0.9],
  [15.15, 1400, 1470, 1.2], [15.45, 1330, 1380, 1.1], [17.5, 1420, 1470, -0.6], [18.5, 1290, 1360, 0.5], [19.2, 1350, 1400, -0.4], [20.1, 1360, 1430, -0.6], [22.0, 1180, 1230, 0.4],
  [0.35, 1650, 1710, 0.5], [0.8, 1900, 1970, 0.5], [1.5, 2350, 2410, 0.7], [1.9, 1960, 2020, 0.9], [2.3, 2450, 2490, 0.6], [2.55, 2100, 2160, -0.5], [3.2, 2240, 2300, 0.6],
  [3.5, 1500, 1570, 1.1], [3.75, 1740, 1800, 1.3], [4.2, 2270, 2320, 0.5], [4.6, 1650, 1700, 0.8], [5.3, 1510, 1570, 1.1], [5.7, 2080, 2150, 0.4], [6.6, 2260, 2330, 0.7],
  [7.3, 1720, 1780, 0.5], [8.1, 2020, 2080, -0.4], [9.0, 1940, 1990, -0.4], [10.2, 2210, 2260, 0.3], [10.9, 1800, 1860, 0.4], [11.6, 2400, 2460, 0.4], [12.2, 1920, 1990, -0.3],
  [13.0, 2150, 2220, 0.5], [14.0, 2300, 2350, 0.4], [14.9, 1620, 1680, 1], [15.6, 1900, 1960, 0.8], [16.3, 2280, 2340, 0.6], [17.1, 1690, 1760, 0.5], [18.1, 2040, 2100, 0.4],
  [18.9, 2320, 2380, 0.3], [19.6, 1780, 1850, 0.5], [20.4, 2110, 2170, 0.6], [21.1, 1580, 1640, 0.5], [22.2, 2270, 2320, 0.5], [22.85, 2030, 2100, 1.2], [23.4, 2420, 2490, 0.7],
  [23.85, 1720, 1790, 0.5], [23.7, 2450, 2490, 0.5], [1.3, 2100, 2160, 0.3], [2.1, 1600, 1680, 0.4], [4.9, 2000, 2060, 0.4], [6.9, 1820, 1880, 0.3], [8.7, 1560, 1620, -0.3], [9.7, 1650, 1720, 0.3],
  [11.3, 1540, 1610, -0.3], [12.8, 1640, 1710, 0.4], [14.4, 1880, 1950, 0.3], [16.8, 1560, 1620, 0.6], [17.9, 1330, 1400, -0.4], [19.0, 1500, 1560, 0.4], [20.9, 1880, 1950, 0.3], [21.9, 1400, 1480, 0.4],
];

const TOP_Y = [150, 502];
const BOTTOM_Y = [581, 931.5];
const LEFT_X = [91, 689];
const RIGHT_X = [887.5, 1484];
const FONT = "'DejaVu Sans', sans-serif";
const GRID = '#d4d4d4';
const COL_WIDTH = 0.05;

const hourLabel = (h: number) => `${String(h).padStart(2, '0')}:00`;

// turn the per-hour rows into [hour, altBottom, altTop, value] columns
function columnsFromTops(tops: number[][], values: ((h: number, i: number) => number)) {
  const out: number[][] = [];
  tops.forEach((row, h) => row.forEach((top, i) => {
    if (top > 0) out.push([h + i * COL_WIDTH, 366, top, values(h, i)]);
  }));
  return out;
}

function columnsFromMask(rows: string[], a0: number, a1: number, value: (c: string) => number) {
  const out: number[][] = [];
  rows.forEach((row, h) => row.split('').forEach((c, i) => {
    if (c !== '.') out.push([h + i * COL_WIDTH, a0, a1, value(c)]);
  }));
  return out;
}

type Sel = d3.Selection<SVGGElement, unknown, null, undefined>;

function gridLines(g: Sel, xs: number[], ys: number[], x: any, y: any) {
  const [x0, x1] = x.range();
  const [y1, y0] = y.range();
  g.selectAll('.gv').data(xs).enter().append('line').attr('x1', (d) => x(d)).attr('x2', (d) => x(d))
    .attr('y1', y0).attr('y2', y1).attr('stroke', GRID).attr('stroke-width', 1.1).attr('stroke-dasharray', '4,2');
  g.selectAll('.gh').data(ys).enter().append('line').attr('y1', (d) => y(d)).attr('y2', (d) => y(d))
    .attr('x1', x0).attr('x2', x1).attr('stroke', GRID).attr('stroke-width', 1.1).attr('stroke-dasharray', '4,2');
}

function axes(g: Sel, x: any, y: any, xt: number[], xm: number[], yt: number[], ym: number[], xf: (d: number) => string, xSize: number) {
  const [x0, x1] = x.range();
  const [y1, y0] = y.range();
  g.append('rect').attr('x', x0).attr('y', y0).attr('width', x1 - x0).attr('height', y1 - y0)
    .attr('fill', 'none').attr('stroke', '#000').attr('stroke-width', 1.1);
  const bottom = g.append('g').attr('transform', `translate(0,${y1})`);
  bottom.call(d3.axisBottom(x).tickValues(xm).tickSize(3).tickFormat(() => '')).select('.domain').remove();
  const b2 = g.append('g').attr('transform', `translate(0,${y1})`);
  b2.call(d3.axisBottom(x).tickValues(xt).tickSize(5).tickPadding(6).tickFormat((d) => xf(d as number)));
  b2.select('.domain').remove();
  b2.selectAll('.tick text').style('font-size', `${xSize}px`);
  const left = g.append('g').attr('transform', `translate(${x0},0)`);
  left.call(d3.axisLeft(y).tickValues(ym).tickSize(3).tickFormat(() => '')).select('.domain').remove();
  const l2 = g.append('g').attr('transform', `translate(${x0},0)`);
  l2.call(d3.axisLeft(y).tickValues(yt).tickSize(5).tickPadding(4).tickFormat((d) => String(d)));
  l2.select('.domain').remove();
  l2.selectAll('.tick text').style('font-size', '16.4px');
  g.selectAll('.tick text').style('font-family', FONT).attr('fill', '#000');
  g.selectAll('.tick line').attr('stroke', '#000').attr('stroke-width', 1);
}

// parts: [text, italic, baseline shift]
function label(t: d3.Selection<SVGTextElement, unknown, null, undefined>, parts: [string, boolean, number?][], size: number) {
  parts.forEach(([s, italic, shift]) => {
    const span = t.append('tspan').text(s).style('font-style', italic ? 'italic' : 'normal');
    if (shift) span.attr('dy', shift);
    if (shift && shift < 0) span.style('font-size', `${size * 0.7}px`);
  });
}

function yLabel(g: Sel, x: number, y: number, parts: [string, boolean, number?][], size = 19.6) {
  const t = g.append('text').attr('transform', `translate(${x},${y}) rotate(-90)`).attr('text-anchor', 'middle')
    .style('font-family', FONT).style('font-size', `${size}px`);
  label(t, parts, size);
}

function xLabel(g: Sel, x: number, y: number, parts: [string, boolean][]) {
  const t = g.append('text').attr('x', x).attr('y', y).attr('text-anchor', 'middle').style('font-family', FONT).style('font-size', '19.5px');
  label(t, parts, 19.5);
}

function drawCells(g: Sel, x: any, y: any, cols: number[][], color: (v: number) => string) {
  g.append('g').selectAll('rect').data(cols).enter().append('rect')
    .attr('x', (d) => x(d[0])).attr('width', (d) => x(d[0] + COL_WIDTH) - x(d[0]))
    .attr('y', (d) => y(Math.min(d[2], 2500))).attr('height', (d) => y(d[1]) - y(Math.min(d[2], 2500)))
    .attr('fill', (d) => color(d[3]));
}

function colorbar(g: Sel, x0: number, x1: number, top: number, bottom: number, tip: number, domain: number[], ticks: number[], color: any, parts: [string, boolean, number?][], labelX: number, size: number) {
  const y = d3.scaleLinear().domain(domain).range([bottom, top]);
  const steps = d3.range(bottom, top - 0.01, -1);
  g.selectAll('.cb').data(steps).enter().append('rect').attr('x', x0).attr('width', x1 - x0)
    .attr('y', (d) => d - 1.3).attr('height', 1.6).attr('fill', (d) => color(y.invert(d)));
  const cx = (x0 + x1) / 2;
  const low = bottom + (top - tip);
  g.append('polygon').attr('points', `${x0},${top} ${cx},${tip} ${x1},${top}`).attr('fill', color(domain[1]));
  g.append('polygon').attr('points', `${x0},${bottom} ${cx},${low} ${x1},${bottom}`).attr('fill', color(domain[0]));
  g.append('path').attr('d', `M${x0},${top}L${cx},${tip}L${x1},${top}L${x1},${bottom}L${cx},${low}L${x0},${bottom}Z`)
    .attr('fill', 'none').attr('stroke', '#333').attr('stroke-width', 1);
  const ax = g.append('g').attr('transform', `translate(${x1},0)`);
  ax.call(d3.axisRight(y).tickValues(ticks).tickSize(5).tickPadding(4).tickFormat((d) => String(d).replace('-', '\u2212')));
  ax.select('.domain').remove();
  ax.selectAll('.tick text').style('font-family', FONT).style('font-size', '16.7px');
  ax.selectAll('.tick line').attr('stroke', '#000').attr('stroke-width', 1);
  yLabel(g, labelX, (top + bottom) / 2, parts, size);
}

function subTitle(g: Sel, x: number, y: number, s: string) {
  g.append('text').attr('x', x).attr('y', y).attr('text-anchor', 'middle').style('font-family', FONT)
    .style('font-style', 'italic').style('font-size', '16.7px').text(s);
}

export default function App() {
  const svgRef = useRef<SVGSVGElement>(null);

  useEffect(() => {
    if (!svgRef.current) return;
    const svg = d3.select(svgRef.current);
    svg.selectAll('*').remove();
    const root = svg.append('g') as unknown as Sel;

    // Header
    TITLE_LINES.forEach((line, i) => {
      root.append('text').attr('x', 801.5).attr('y', 36 + i * 23.2).attr('text-anchor', 'middle')
        .style('font-family', FONT).style('font-size', '22.3px').text(line);
    });

    // Logo
    const defs = svg.append('defs');
    const arc = defs.append('linearGradient').attr('id', 'arcGrad').attr('gradientUnits', 'userSpaceOnUse')
      .attr('x1', 1306).attr('x2', 1451).attr('y1', 0).attr('y2', 0);
    [['0%', '#7fc8c4'], ['25%', '#2f93a0'], ['50%', '#1c5d78'], ['70%', '#101e48'], ['100%', '#0a0f35']].forEach(([o, c]) => arc.append('stop').attr('offset', o).attr('stop-color', c));
    const mast = defs.append('linearGradient').attr('id', 'mastGrad').attr('x1', 0).attr('x2', 0).attr('y1', 0).attr('y2', 1);
    [['0%', '#ffffff'], ['35%', '#0a0f35'], ['100%', '#0a0f35']].forEach(([o, c]) => mast.append('stop').attr('offset', o).attr('stop-color', c));
    root.append('path').attr('d', 'M1306,49 Q1378.5,-15 1451,49').attr('fill', 'none')
      .attr('stroke', 'url(#arcGrad)').attr('stroke-width', 2.6);
    root.append('rect').attr('x', 1422).attr('y', 2).attr('width', 2.6).attr('height', 52).attr('fill', 'url(#mastGrad)');
    root.append('text').attr('x', 1297).attr('y', 78).attr('textLength', 158).style('font-family', "'Open Sans', sans-serif")
      .style('font-size', '29.5px').style('font-weight', 600).attr('fill', '#0a0f35').text('ACTRIS');
    root.append('text').attr('x', 1376.5).attr('y', 99.5).attr('text-anchor', 'middle').style('font-family', "'Open Sans', sans-serif")
      .style('font-size', '17.5px').attr('fill', '#141a45').text('CCRES');

    const yTop = d3.scaleLinear().domain([0, 2500]).range(TOP_Y.slice().reverse());
    const zhColor = d3.scaleLinear<string>().domain(ZH_STOPS).range(ZH_COLORS).clamp(true);
    const velColor = d3.scaleLinear<string>().domain(VEL_STOPS).range(VEL_COLORS).clamp(true);

    // Reflectivity
    const xZh = d3.scaleLinear().domain([0, 24]).range(LEFT_X);
    drawCells(root, xZh, yTop, [
      ...columnsFromTops(ZH_GRAY_TOP, () => -50),
      ...columnsFromMask(ZH_BAND_UPPER, 300, 331, () => -50),
      ...columnsFromMask(ZH_BAND_LOWER, 271, 300, () => -50),
    ], zhColor);
    gridLines(root, HOUR_TICKS.slice(1), ALT_TICKS.slice(1, -1), xZh, yTop);
    drawCells(root, xZh, yTop, [...ZH_SHAFTS, ...ZH_SPECKS], zhColor);
    axes(root, xZh, yTop, HOUR_TICKS, HOUR_MINOR, ALT_TICKS, ALT_MINOR, hourLabel, 15.6);
    subTitle(root, 390, 142, 'DCR - METEK MIRA-35S');
    yLabel(root, 29, 326, [['Altitude [m AGL]', false]]);
    colorbar(root, 707.5, 726, 166, 485, 150, [-50, 20], ZH_TICKS, zhColor, [['Zh [', false], ['dBZ', true], [']', false]], 790, 17.2);

    // Velocity
    const xVel = d3.scaleLinear().domain([0, 24]).range(RIGHT_X);
    gridLines(root, HOUR_TICKS.slice(1), ALT_TICKS.slice(1, -1), xVel, yTop);
    drawCells(root, xVel, yTop, [
      ...columnsFromTops(VEL_TOP, (h, i) => VEL_VALUE[h][i]),
      ...columnsFromMask(VEL_BAND_UPPER, 300, 331, (c) => VEL_BAND_VALUE[c]),
      ...columnsFromMask(VEL_BAND_LOWER, 271, 300, (c) => VEL_BAND_VALUE[c]),
      ...VEL_SHAFTS, ...VEL_SPECKS,
    ], velColor);
    axes(root, xVel, yTop, HOUR_TICKS, HOUR_MINOR, ALT_TICKS, ALT_MINOR, hourLabel, 15.6);
    subTitle(root, 1186, 142, 'DCR - METEK MIRA-35S');
    yLabel(root, 826, 326, [['Altitude [m AGL]', false]]);
    xLabel(root, 1186, 550, [['Time [UTC]', false]]);
    colorbar(root, 1503, 1522, 165.5, 485.5, 150, [-4, 4], VEL_TICKS, velColor, [['Velocity [', false], ['m.s', true], ['\u22121', false, -6], [']', false, 6]], 1578, 17.4);

    // Rainfall
    const xRain = d3.scaleLinear().domain([0, 24]).range(LEFT_X);
    const yRain = d3.scaleLinear().domain([-1, 1]).range(BOTTOM_Y.slice().reverse());
    gridLines(root, HOUR_TICKS.slice(1), [], xRain, yRain);
    const rainLine = d3.line<number>().x((_, i) => xRain(RAIN_HOURS[i])).y((d) => yRain(d));
    root.append('path').datum(RAIN_VALUES).attr('d', rainLine).attr('fill', 'none').attr('stroke', '#ef8a62').attr('stroke-width', 3);
    axes(root, xRain, yRain, HOUR_TICKS, HOUR_MINOR, [0], [], hourLabel, 15.6);
    subTitle(root, 390, 571, 'Disdrometer and Weather station');
    yLabel(root, 29, 757, [['Cumulative rainfall [', false], ['mm', true], [']', false]]);
    xLabel(root, 390, 980, [['Time [UTC]', false]]);
    root.append('rect').attr('x', 421).attr('y', 892).attr('width', 259).attr('height', 30).attr('rx', 3)
      .attr('fill', '#fff').attr('fill-opacity', 0.8).attr('stroke', '#ccc').attr('stroke-width', 1);
    root.append('line').attr('x1', 427).attr('x2', 462).attr('y1', 906.5).attr('y2', 906.5).attr('stroke', '#ef8a62').attr('stroke-width', 3);
    root.append('text').attr('x', 474).attr('y', 912).style('font-family', FONT).style('font-size', '16.7px').text('OTT HydroMet Parsivel2');

    // Fall speed
    const xFall = d3.scaleLinear().domain([0, 5]).range(RIGHT_X);
    const yFall = d3.scaleLinear().domain([0, 10]).range(BOTTOM_Y.slice().reverse());
    gridLines(root, DIAM_TICKS.slice(1, -1), FALL_TICKS.slice(1, -1), xFall, yFall);
    axes(root, xFall, yFall, DIAM_TICKS, DIAM_MINOR, FALL_TICKS, FALL_MINOR, (d) => String(d), 16.4);
    subTitle(root, 1186, 571, 'Relationship disdrometer fall speed / drop size');
    yLabel(root, 822, 757, [['Fall speed [', false], ['m.s', true], ['\u22121', false, -7], [']', false, 7]]);
    xLabel(root, 1186, 980, [['Diameter [', false], ['mm', true], [']', false]]);
    root.append('text').attr('x', xFall(2)).attr('y', yFall(4.06)).style('font-family', FONT).style('font-style', 'italic').style('font-size', '19.5px').text('No fit');
  }, []);

  return <svg ref={svgRef} width={1600} height={1000} style={{ position: 'absolute', left: 0, top: 0, background: '#fff' }} />;
}
